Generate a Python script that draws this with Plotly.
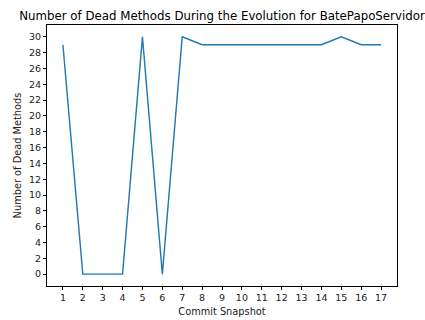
import plotly.graph_objects as go

snapshots = list(range(1, 18))
dead_methods = [29, 0, 0, 0, 30, 0, 30, 29, 29, 29, 29, 29, 29, 29, 30, 29, 29]
y_ticks = list(range(0, 31, 2))

fig = go.Figure()
fig.add_trace(go.Scatter(x=snapshots, y=dead_methods, mode="lines",
                         line=dict(color="#1f77b4", width=1.4)))

axis_common = dict(showgrid=False, zeroline=False, showline=True, linecolor="black",
                   linewidth=1, mirror=True, ticks="outside", ticklen=3, tickcolor="black",
                   automargin=False,
                   tickfont=dict(family="DejaVu Sans", size=9.5, color="#222"))
fig.update_xaxes(range=[0.2, 17.8], tickvals=snapshots, ticktext=[str(s) for s in snapshots],
                 title=dict(text="Commit Snapshot", font=dict(family="DejaVu Sans", size=9.8, color="#222"), standoff=5),
                 **axis_common)
fig.update_yaxes(range=[-1.5, 31.5], tickvals=y_ticks,
                 title=dict(text="Number of Dead Methods", font=dict(family="DejaVu Sans", size=9.8, color="#222"), standoff=5),
                 **axis_common)
fig.update_layout(
    width=425, height=320,
    margin=dict(l=47, r=28, t=25, b=34),
    plot_bgcolor="white", paper_bgcolor="white",
    showlegend=False,
    title=dict(text="Number of Dead Methods During the Evolution for BatePapoServidor",
               font=dict(family="DejaVu Sans", size=11.8, color="black"),
               x=0.5, xref="paper", xanchor="center", y=1, yref="paper", yanchor="bottom", pad=dict(b=5)),
)
fig.write_html("out.html")
